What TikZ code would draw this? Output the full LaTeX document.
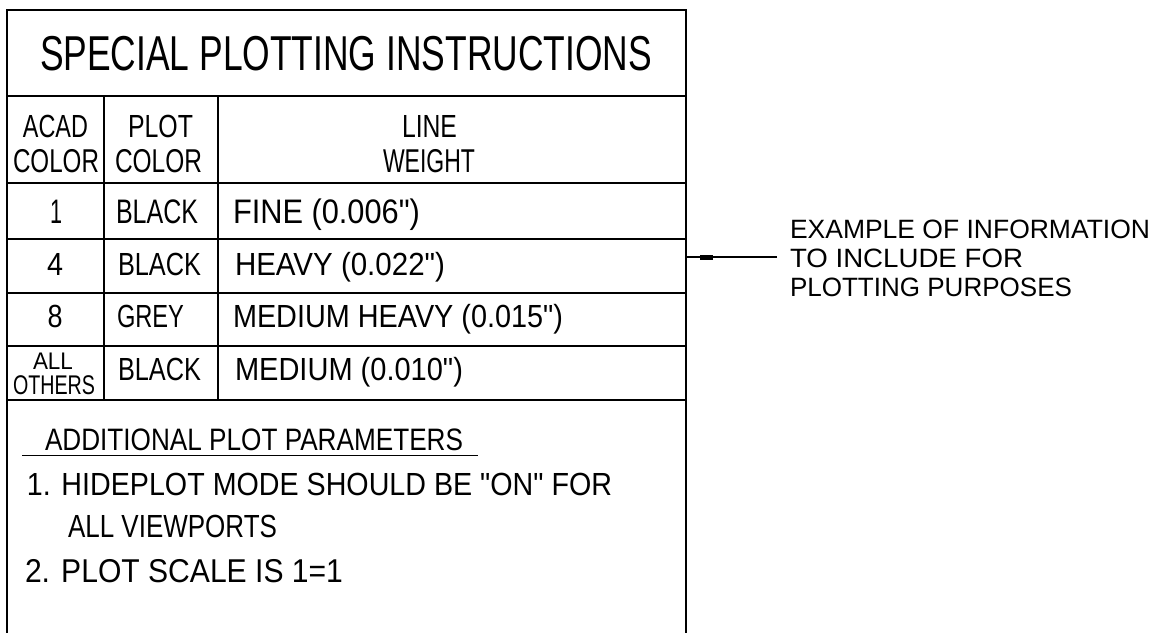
\documentclass[tikz,border=0pt]{standalone}
\usepackage{fontspec}
\usepackage{graphicx}
\newfontfamily\cadfont{Liberation Sans}
\newcommand\cadtxt[3]{{\cadfont\fontsize{#1}{#1}\selectfont\resizebox{#2}{\height}{#3}}}
\tikzset{
  frame/.style={line width=2pt, line cap=rect},
  txt/.style={anchor=base west, inner sep=0pt, outer sep=0pt},
  ctxt/.style={anchor=base, inner sep=0pt, outer sep=0pt},
}
\begin{document}
\begin{tikzpicture}[x=1pt,y=-1pt]
\useasboundingbox (0,0) rectangle (1161,632);
% table frame
\draw[frame] (6.5,632) -- (6.5,10) -- (686,10) -- (686,632);
\draw[frame] (6.5,96) -- (686,96);
\draw[frame] (6.5,182.5) -- (686,182.5);
\draw[frame] (6.5,238.5) -- (686,238.5);
\draw[frame] (6.5,292.5) -- (686,292.5);
\draw[frame] (6.5,346) -- (686,346);
\draw[frame] (6.5,400) -- (686,400);
\draw[frame] (104,96) -- (104,400);
\draw[frame] (218,96) -- (218,400);
% title
\node[txt] (title) at (40,70) {\cadtxt{49}{612pt}{SPECIAL PLOTTING INSTRUCTIONS}};
% header
\node[txt] (h1a) at (23,137) {\cadtxt{32}{65pt}{ACAD}};
\node[txt] (h1b) at (13,172) {\cadtxt{33}{86pt}{COLOR}};
\node[txt] (h2a) at (128,137) {\cadtxt{32}{65pt}{PLOT}};
\node[txt] (h2b) at (115,172) {\cadtxt{33}{87pt}{COLOR}};
\node[txt] (h3a) at (402,137) {\cadtxt{32}{55pt}{LINE}};
\node[txt] (h3b) at (383,172) {\cadtxt{33}{92pt}{WEIGHT}};
% rows
\node[ctxt] (r1a) at (56,223) {\cadtxt{34}{12pt}{1}};
\node[txt] (r1b) at (116,223) {\cadtxt{34}{82pt}{BLACK}};
\node[txt] (r1c) at (233,223) {\cadtxt{34}{187pt}{FINE (0.006")}};
\node[ctxt] (r2a) at (55,275) {\cadtxt{32}{16pt}{4}};
\node[txt] (r2b) at (118,275) {\cadtxt{32}{83pt}{BLACK}};
\node[txt] (r2c) at (235,275) {\cadtxt{32}{210pt}{HEAVY (0.022")}};
\node[ctxt] (r3a) at (55,327) {\cadtxt{32}{15pt}{8}};
\node[txt] (r3b) at (117,327) {\cadtxt{32}{67pt}{GREY}};
\node[txt] (r3c) at (233,327) {\cadtxt{32}{330pt}{MEDIUM HEAVY (0.015")}};
\node[txt] (r4a1) at (33,369) {\cadtxt{24}{40pt}{ALL}};
\node[txt] (r4a2) at (13,394) {\cadtxt{27}{82pt}{OTHERS}};
\node[txt] (r4b) at (118,380) {\cadtxt{32}{83pt}{BLACK}};
\node[txt] (r4c) at (235,380) {\cadtxt{32}{228pt}{MEDIUM (0.010")}};
% additional parameters
\node[txt] (addh) at (45,450) {\cadtxt{31}{418pt}{ADDITIONAL PLOT PARAMETERS}};
\draw[line width=1.6pt] (22,455.5) -- (478,455.5);
\node[txt] (add1) at (27,495) {\cadtxt{32}{585pt}{1. HIDEPLOT MODE SHOULD BE "ON" FOR}};
\node[txt] (add1b) at (68,537) {\cadtxt{32}{209pt}{ALL VIEWPORTS}};
\node[txt] (add2) at (25,582) {\cadtxt{33}{318pt}{2. PLOT SCALE IS 1=1}};
% note and leader
\node[txt] (note1) at (790,238) {\cadtxt{26.5}{360pt}{EXAMPLE OF INFORMATION}};
\node[txt] (note2) at (790,267) {\cadtxt{26.5}{233pt}{TO INCLUDE FOR}};
\node[txt] (note3) at (790,296) {\cadtxt{26.5}{282pt}{PLOTTING PURPOSES}};
\coordinate (leadEnd) at (777,257);
\coordinate (leadTip) at (686,257);
\draw[line width=1.5pt] (leadEnd) -- (leadTip);
\fill (700,254.5) rectangle (713,259.5);
\end{tikzpicture}
\end{document}
